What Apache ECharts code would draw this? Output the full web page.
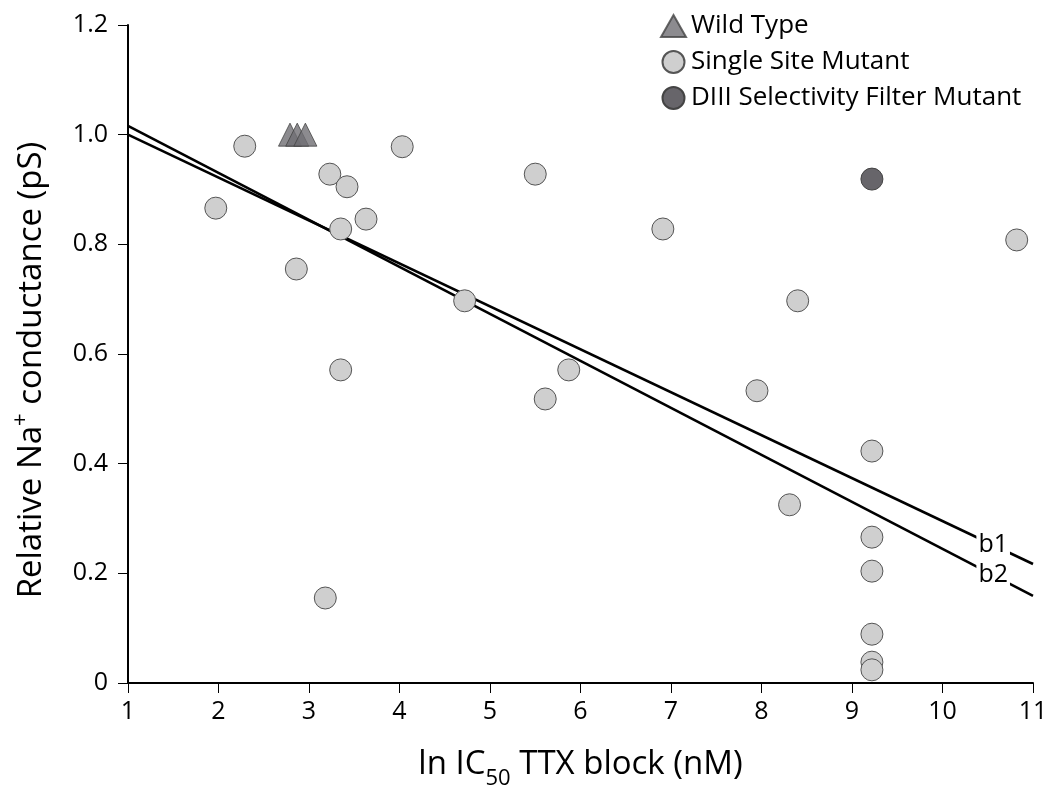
<!DOCTYPE html>
<html>
<head>
<meta charset="utf-8">
<script src="https://cdn.jsdelivr.net/npm/echarts@6/dist/echarts.min.js"></script>
<style>
  html, body { margin: 0; padding: 0; background: #fff; }
  #chart { width: 1046px; height: 786px; }
</style>
</head>
<body>
<div id="chart"></div>
<script>
    // values
    var wildType = [[2.79, 1.0], [2.87, 1.0], [2.96, 1.0]];

    var singleSite = [
        [1.97, 0.866], [2.29, 0.979], [2.86, 0.755], [3.23, 0.928], [3.42, 0.905],
        [3.35, 0.828], [3.63, 0.846], [3.35, 0.571], [3.18, 0.155], [4.03, 0.978],
        [4.72, 0.697], [5.50, 0.928], [5.61, 0.518], [5.87, 0.571], [6.91, 0.828],
        [7.95, 0.533], [8.40, 0.697], [8.31, 0.325], [9.22, 0.423], [9.22, 0.266],
        [9.22, 0.204], [9.22, 0.089], [9.22, 0.038], [9.22, 0.024], [10.82, 0.808]
    ];

    var diiiMutant = [[9.22, 0.919]];

    // regression lines, end points
    var lineB1 = [[1, 1.0], [11, 0.217]];
    var lineB2 = [[1, 1.016], [11, 0.159]];
    var lineLabelX = 10.56;

    var xTicks = [1, 2, 3, 4, 5, 6, 7, 8, 9, 10, 11];
    var yTicks = [0, 0.2, 0.4, 0.6, 0.8, 1.0, 1.2];

    var font = 'Open Sans';

    function yAt(line, x) {
        var a = line[0], b = line[1];
        return a[1] + (b[1] - a[1]) * (x - a[0]) / (b[0] - a[0]);
    }

    function lineSeries(name, pts) {
        return {
            name: name,
            type: 'line',
            data: pts,
            symbol: 'none',
            z: 1,
            lineStyle: { color: '#000', width: 2.6 },
            silent: true,
            markPoint: {
                symbol: 'circle',
                symbolSize: 0,
                data: [{ coord: [lineLabelX, yAt(pts, lineLabelX)] }],
                label: {
                    show: true,
                    formatter: name,
                    position: 'inside',
                    color: '#000',
                    fontFamily: font,
                    fontSize: 25,
                    backgroundColor: '#fff',
                    padding: [0, 2, 0, 2]
                }
            }
        };
    }

    var myChart = echarts.init(document.getElementById('chart'));

    var option = {
        animation: false,
        backgroundColor: '#fff',
        grid: { left: 128, right: 13, top: 25, bottom: 103, containLabel: false, outerBoundsMode: 'none' },
        legend: {
            orient: 'vertical',
            left: 660,
            top: 13,
            padding: 0,
            itemWidth: 25,
            itemHeight: 22,
            itemGap: 10,
            textStyle: { fontFamily: font, fontSize: 26, color: '#000' },
            data: ['Wild Type', 'Single Site Mutant', 'DIII Selectivity Filter Mutant']
        },
        xAxis: {
            type: 'value',
            min: 1,
            max: 11,
            interval: 1,
            splitLine: { show: false },
            axisLine: { lineStyle: { color: '#000', width: 2 } },
            axisTick: { length: 10, lineStyle: { color: '#000', width: 1 } },
            axisLabel: {
                color: '#000', fontFamily: font, fontSize: 25, margin: 16,
                formatter: function (v) { return xTicks.indexOf(v) >= 0 ? String(v) : ''; }
            },
            name: '{a|ln IC}{sub|50}{a| TTX block (nM)}',
            nameLocation: 'middle',
            nameGap: 58,
            nameTextStyle: {
                rich: {
                    a: { fontFamily: font, fontSize: 33, color: '#000', lineHeight: 40, verticalAlign: 'bottom' },
                    sub: { fontFamily: font, fontSize: 22, color: '#000', lineHeight: 40, verticalAlign: 'bottom', padding: [0, 0, -9, 0] }
                }
            }
        },
        yAxis: {
            type: 'value',
            min: 0,
            max: 1.2,
            interval: 0.2,
            splitLine: { show: false },
            axisLine: { show: true, lineStyle: { color: '#000', width: 2 } },
            axisTick: { show: true, length: 10, lineStyle: { color: '#000', width: 1 } },
            axisLabel: {
                color: '#000', fontFamily: font, fontSize: 25, margin: 20,
                formatter: function (v) {
                    var r = Math.round(v * 10) / 10;
                    return r === 0 ? '0' : r.toFixed(1);
                }
            },
            name: '{a|Relative Na}{sup|+}{a| conductance (pS)}',
            nameLocation: 'middle',
            nameGap: 80,
            nameTextStyle: {
                padding: [0, 32, 0, 0],
                rich: {
                    a: { fontFamily: font, fontSize: 33, color: '#000', lineHeight: 40, verticalAlign: 'bottom' },
                    sup: { fontFamily: font, fontSize: 22, color: '#000', lineHeight: 40, verticalAlign: 'bottom', padding: [0, 0, 16, 0] }
                }
            }
        },
        series: [
            lineSeries('b1', lineB1),
            lineSeries('b2', lineB2),
            {
                name: 'Wild Type',
                type: 'scatter',
                data: wildType,
                symbol: 'triangle',
                symbolSize: [23, 23],
                z: 3,
                itemStyle: { color: '#6f6e73', borderColor: '#444', borderWidth: 1 }
            },
            {
                name: 'Single Site Mutant',
                type: 'scatter',
                data: singleSite,
                symbol: 'circle',
                symbolSize: 22,
                z: 3,
                itemStyle: { color: '#cfcfcf', borderColor: '#555', borderWidth: 1, opacity: 1 }
            },
            {
                name: 'DIII Selectivity Filter Mutant',
                type: 'scatter',
                data: diiiMutant,
                symbol: 'circle',
                symbolSize: 22,
                z: 3,
                itemStyle: { color: '#67656a', borderColor: '#444', borderWidth: 1, opacity: 1 }
            }
        ]
    };

    myChart.setOption(option);
</script>
</body>
</html>
